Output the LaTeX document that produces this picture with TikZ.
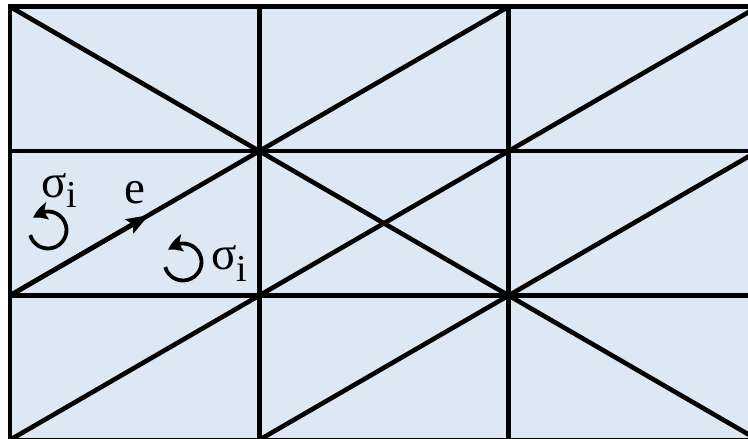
\documentclass[tikz,border=0pt]{standalone}
\usepackage{fontspec}
\setmainfont{Liberation Serif}
\usetikzlibrary{arrows.meta,calc,bending}
\definecolor{cellblue}{RGB}{221,232,245}
\begin{document}
\begin{tikzpicture}[x=1pt,y=1pt,
  gridline/.style={line width=4.6pt,line cap=rect},
  diagline/.style={line width=4.6pt},
  rotarrow/.style={line width=3.8pt,-{Stealth[length=16pt,width=17pt,inset=3pt,bend]}},
  lbl/.style={inner sep=0pt,anchor=base west,font=\fontsize{47}{50}\selectfont},
  sublbl/.style={inner sep=0pt,anchor=base west,font=\fontsize{38}{42}\selectfont}]
\useasboundingbox (0,0) rectangle (748,439);
\clip (0,0) rectangle (748,439);
\foreach \i in {0,...,3}
  \foreach \j in {0,...,3}
    \coordinate (p\i\j) at ({10+249.3*\i},{432.3-144.4*\j});
\fill[cellblue] (p00) rectangle (p33);
% grid
\foreach \j in {0,...,3} \draw[gridline] (p0\j) -- (p3\j);
\foreach \i in {0,...,3} \draw[gridline] (p\i0) -- (p\i3);
% diagonals
\draw[diagline] (p00) -- (p11);
\draw[diagline] (p11) -- (p20);
\draw[diagline] (p21) -- (p30);
\draw[diagline] (p02) -- (p11);
\draw[diagline] (p11) -- (p22);
\draw[diagline] (p12) -- (p21);
\draw[diagline] (p22) -- (p31);
\draw[diagline] (p03) -- (p12);
\draw[diagline] (p13) -- (p22);
\draw[diagline] (p22) -- (p33);
% arrow e
\coordinate (etip) at ($(p02)!0.556!(p11)$);
\draw[line width=4.6pt,-{Stealth[length=22pt,width=16pt,inset=4pt]}] (p02) -- (etip);
\node[lbl] (elbl) at (124,235) {e};
% rotation symbols
\coordinate (c1) at (48,209);
\coordinate (c2) at (183,177);
\draw[rotarrow] ($(c1)+(196:18.5)$) arc[start angle=196,end angle=502,radius=18.5];
\draw[rotarrow] ($(c2)+(196:18.5)$) arc[start angle=196,end angle=502,radius=18.5];
% sigma labels
\node[lbl] (s1) at (41,241) {σ};
\node[sublbl] (s1i) at (66,231) {i};
\node[lbl] (s2) at (211,169) {σ};
\node[sublbl] (s2i) at (236,157) {i};
\end{tikzpicture}
\end{document}
